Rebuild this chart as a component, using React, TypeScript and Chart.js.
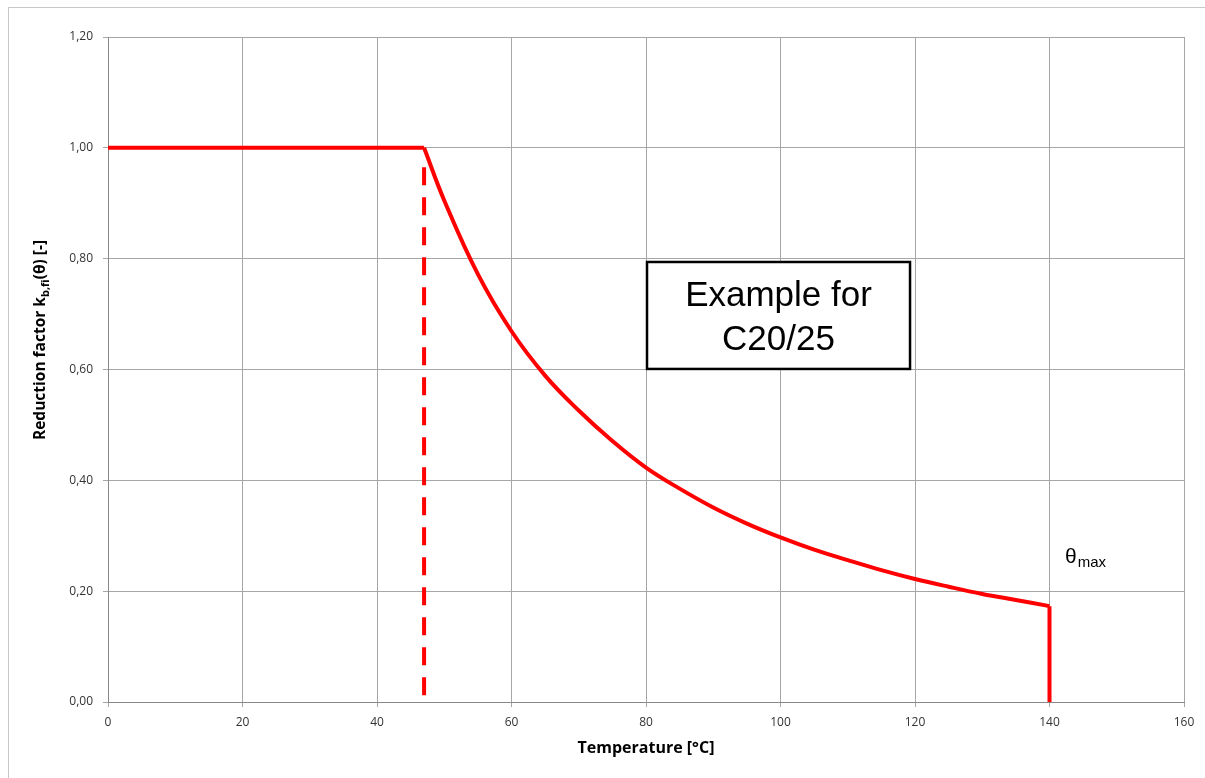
import React, { useEffect, useRef } from "react";
import { Chart, registerables } from "chart.js";

Chart.register(...registerables);

// Temperature [°C] and reduction factor values
const flatTemps = [0, 47];
const flatValues = [1.0, 1.0];

const curveTemps = [47, 50, 55, 60, 65, 70, 75, 80, 85, 90, 95, 100, 105, 110, 115, 120, 125, 130, 135, 140];
const curveValues = [1.0, 0.905, 0.772, 0.669, 0.589, 0.526, 0.471, 0.423, 0.385, 0.351, 0.322, 0.297, 0.275, 0.256, 0.238, 0.222, 0.208, 0.195, 0.184, 0.173];

const dropTemps = [140, 140];
const dropValues = [0.173, 0.0];

const dashTemps = [47, 47];
const dashValues = [0.965, 0.0];

const xTickLabels = ["0", "20", "40", "60", "80", "100", "120", "140", "160"];
const yTickLabels = ["0,00", "0,20", "0,40", "0,60", "0,80", "1,00", "1,20"];

const xTitle = "Temperature [°C]";
const yTitleMain = "Reduction factor k";
const yTitleSub = "b,fi";
const yTitleEnd = "(θ) [-]";
const annotationLines = ["Example for", "C20/25"];
const thetaLabel = "θ";
const thetaSub = "max";

const RED = "#ff0000";
const TICK_FONT = "'Open Sans', sans-serif";

const toPts = (xs: number[], ys: number[]) => xs.map((x, i) => ({ x, y: ys[i] }));

const overlayPlugin = {
  id: "overlay",
  afterDraw(chart: any) {
    const { ctx, scales } = chart;
    const xs = scales.x;
    const ys = scales.y;
    const area = chart.chartArea;
    ctx.save();

    // annotation box
    const bx1 = xs.getPixelForValue(80.15);
    const bx2 = xs.getPixelForValue(119.26);
    const by1 = ys.getPixelForValue(0.794);
    const by2 = ys.getPixelForValue(0.601);
    ctx.fillStyle = "#ffffff";
    ctx.fillRect(bx1, by1, bx2 - bx1, by2 - by1);
    ctx.strokeStyle = "#000000";
    ctx.lineWidth = 2.5;
    ctx.strokeRect(bx1, by1, bx2 - bx1, by2 - by1);
    ctx.fillStyle = "#000000";
    ctx.font = "35px 'Liberation Sans', Arial, sans-serif";
    ctx.textAlign = "center";
    ctx.textBaseline = "alphabetic";
    const cx = (bx1 + bx2) / 2;
    const cy = (by1 + by2) / 2;
    ctx.fillText(annotationLines[0], cx, cy - 9);
    ctx.fillText(annotationLines[1], cx, cy + 34.5);

    // theta max label
    const tx = xs.getPixelForValue(142.3);
    const ty = ys.getPixelForValue(0.2) - 28;
    ctx.textAlign = "left";
    ctx.font = "21px 'Liberation Sans', Arial, sans-serif";
    ctx.fillStyle = "#000000";
    ctx.fillText(thetaLabel, tx, ty);
    const tw = ctx.measureText(thetaLabel).width;
    ctx.font = "15px 'Liberation Sans', Arial, sans-serif";
    ctx.fillText(thetaSub, tx + tw + 1, ty + 4);

    // x title
    ctx.fillStyle = "#000000";
    ctx.font = "bold 16px " + TICK_FONT;
    ctx.textAlign = "center";
    ctx.textBaseline = "middle";
    ctx.fillText(xTitle, (area.left + area.right) / 2, area.bottom + 46);

    // y title with subscript
    const mainFont = "bold 15.5px " + TICK_FONT;
    const subFont = "bold 11px " + TICK_FONT;
    ctx.font = mainFont;
    const w1 = ctx.measureText(yTitleMain).width;
    const w3 = ctx.measureText(yTitleEnd).width;
    ctx.font = subFont;
    const w2 = ctx.measureText(yTitleSub).width;
    const total = w1 + w2 + w3;
    ctx.translate(32, 332);
    ctx.rotate(-Math.PI / 2);
    ctx.textAlign = "left";
    ctx.textBaseline = "middle";
    let px = -total / 2;
    ctx.font = mainFont;
    ctx.fillText(yTitleMain, px, 0);
    px += w1;
    ctx.font = subFont;
    ctx.fillText(yTitleSub, px, 5);
    px += w2;
    ctx.font = mainFont;
    ctx.fillText(yTitleEnd, px, 0);

    ctx.restore();
  },
};

export default function App() {
  const canvasRef = useRef<HTMLCanvasElement | null>(null);

  useEffect(() => {
    if (!canvasRef.current) return;
    const lineBase = {
      borderColor: RED,
      backgroundColor: RED,
      borderWidth: 4,
      pointRadius: 0,
      showLine: true,
      fill: false,
    };
    const chart = new Chart(canvasRef.current, {
      type: "scatter",
      data: {
        datasets: [
          { ...lineBase, data: toPts(flatTemps, flatValues) },
          { ...lineBase, data: toPts(curveTemps, curveValues), tension: 0.4 },
          { ...lineBase, data: toPts(dropTemps, dropValues) },
          { ...lineBase, data: toPts(dashTemps, dashValues), borderDash: [18, 12], borderCapStyle: "butt" },
        ] as any,
      },
      options: {
        animation: false,
        responsive: false,
        maintainAspectRatio: false,
        layout: { padding: { top: 29, right: 21, left: 0, bottom: 0 } },
        plugins: {
          legend: { display: false },
          tooltip: { enabled: false },
          title: { display: false },
        },
        scales: {
          x: {
            type: "linear",
            min: 0,
            max: 160,
            ticks: {
              stepSize: 20,
              font: { family: TICK_FONT, size: 12 },
              color: "#333333",
              padding: 8,
              maxRotation: 0,
              callback: (_v: any, i: number) => xTickLabels[i],
            },
            grid: { color: "#a6a6a6", lineWidth: 1, tickLength: 5 },
            border: { color: "#888888", width: 1 },
            afterFit: (s: any) => {
              s.height = 76;
            },
          },
          y: {
            type: "linear",
            min: 0,
            max: 1.2,
            ticks: {
              stepSize: 0.2,
              font: { family: TICK_FONT, size: 12 },
              color: "#333333",
              padding: 10,
              callback: (_v: any, i: number) => yTickLabels[i],
            },
            grid: { color: "#a6a6a6", lineWidth: 1, tickLength: 5 },
            border: { color: "#888888", width: 1 },
            afterFit: (s: any) => {
              s.width = 99;
            },
          },
        },
      } as any,
      plugins: [overlayPlugin],
    });
    return () => chart.destroy();
  }, []);

  return (
    <div
      style={{
        position: "absolute",
        left: 8,
        top: 7,
        width: 1197,
        height: 771,
        boxSizing: "border-box",
        borderTop: "1px solid #c8c8c8",
        borderLeft: "1px solid #c8c8c8",
        background: "#ffffff",
      }}
    >
      <canvas ref={canvasRef} width={1196} height={770} style={{ display: "block" }} />
    </div>
  );
}
